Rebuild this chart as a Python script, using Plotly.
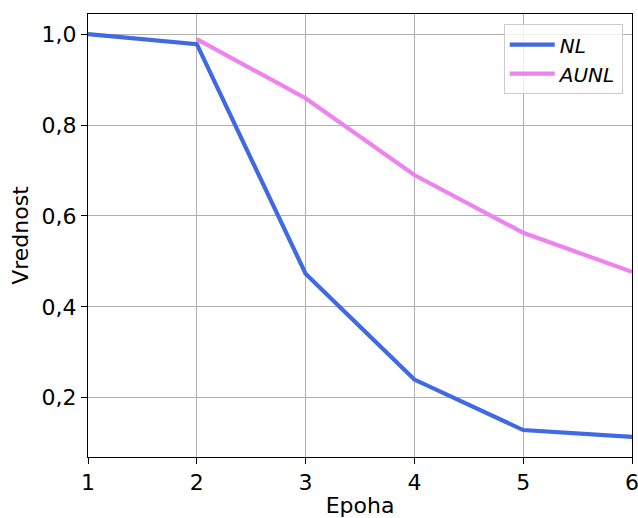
import plotly.graph_objects as go

epochs_nl = [1, 2, 3, 4, 5, 6]
nl_values = [1.0, 0.978, 0.473, 0.240, 0.129, 0.114]
epochs_aunl = [2, 3, 4, 5, 6]
aunl_values = [0.989, 0.859, 0.690, 0.563, 0.477]

x_ticks = [1, 2, 3, 4, 5, 6]
y_ticks = [0.2, 0.4, 0.6, 0.8, 1.0]

font = "DejaVu Sans"
fs = 22

fig = go.Figure()
fig.add_trace(go.Scatter(x=epochs_nl, y=nl_values, mode="lines", name="<i>NL</i>",
                         line=dict(color="#4169e1", width=4.2)))
fig.add_trace(go.Scatter(x=epochs_aunl, y=aunl_values, mode="lines", name="<i>AUNL</i>",
                         line=dict(color="#ee82ee", width=4.2)))

axis_common = dict(showline=True, linecolor="black", linewidth=1, mirror=True,
                   ticks="outside", ticklen=6, tickcolor="black",
                   showgrid=True, gridcolor="#b0b0b0", gridwidth=1, zeroline=False,
                   ticklabeloverflow="allow",
                   tickfont=dict(family=font, size=fs, color="black"))

fig.update_layout(
    width=638, height=518,
    margin=dict(l=88, r=6, t=14, b=61, autoexpand=False),
    paper_bgcolor="white", plot_bgcolor="white",
    separators=", ",
    font=dict(family=font, size=fs, color="black"),
    xaxis=dict(range=[1, 6], tickvals=x_ticks, automargin=False,
               title=dict(text="Epoha", standoff=4, font=dict(family=font, size=fs)),
               **axis_common),
    yaxis=dict(range=[0.0697, 1.0443], tickvals=y_ticks, tickformat=".1f", automargin=False,
               title=dict(text="Vrednost", standoff=6, font=dict(family=font, size=fs)),
               **axis_common),
    legend=dict(x=0.983, y=0.977, xanchor="right", yanchor="top",
                bgcolor="rgba(255,255,255,0.8)", bordercolor="#cccccc", borderwidth=1,
                itemwidth=45, tracegroupgap=0,
                font=dict(family=font, size=20)),
    showlegend=True,
)

fig.write_html("out.html")
